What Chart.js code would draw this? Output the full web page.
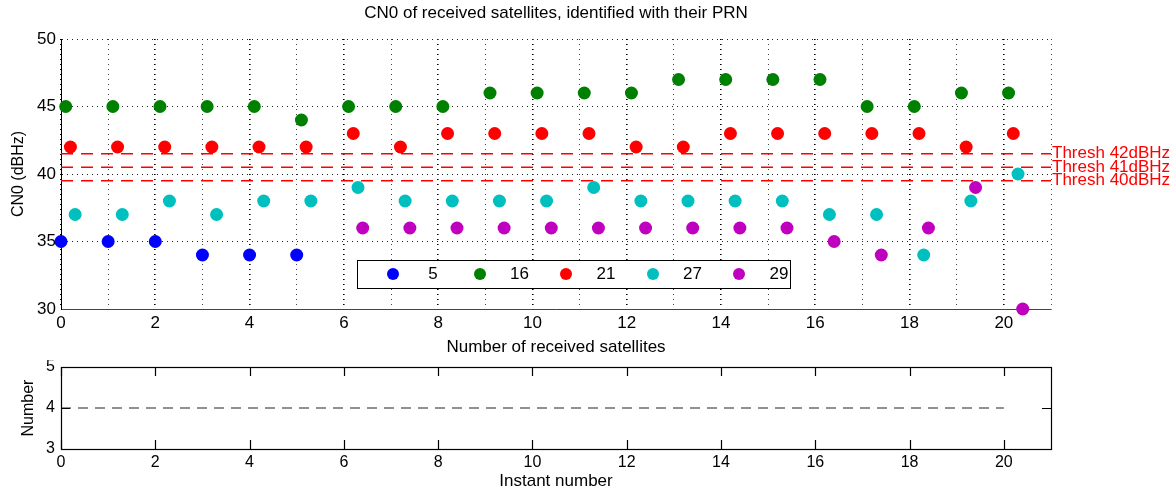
<!DOCTYPE html>
<html>
<head>
<meta charset="utf-8">
<script src="https://cdn.jsdelivr.net/npm/chart.js@4.4.1/dist/chart.umd.min.js"></script>
<style>
  body { margin: 0; background: #fff; font-family: 'Liberation Sans', Arial, sans-serif; }
  #wrap { position: relative; width: 1175px; height: 492px; }
  #topBox { position: absolute; left: 0; top: 0; width: 1175px; height: 360px; }
  #botBox { position: absolute; left: 0; top: 360px; width: 1175px; height: 132px; }
  #legend { position: absolute; left: 357px; top: 260px; width: 432px; height: 27px;
            border: 1.5px solid #000; background: #fff; }
  #legend .dot { position: absolute; top: 7px; width: 12px; height: 12px; border-radius: 50%; }
  #legend .lab { position: absolute; top: 3px; width: 40px; text-align: center; font-size: 17px; }
</style>
</head>
<body>
<div id="wrap">
  <div id="topBox"><canvas id="cn0Chart"></canvas></div>
  <div id="botBox"><canvas id="countChart"></canvas></div>
  <div id="legend"></div>
</div>
<script>
// instants and CN0 per PRN (null = satellite not received)
const instants = [0, 1, 2, 3, 4, 5, 6, 7, 8, 9, 10, 11, 12, 13, 14, 15, 16, 17, 18, 19, 20];
const prnLabels = ['5', '16', '21', '27', '29'];
const prnOffsets = [0, 0.1, 0.2, 0.3, 0.4];
const cn0Prn5  = [35, 35, 35, 34, 34, 34, null, null, null, null, null, null, null, null, null, null, null, null, null, null, null];
const cn0Prn16 = [45, 45, 45, 45, 45, 44, 45, 45, 45, 46, 46, 46, 46, 47, 47, 47, 47, 45, 45, 46, 46];
const cn0Prn21 = [42, 42, 42, 42, 42, 42, 43, 42, 43, 43, 43, 43, 42, 42, 43, 43, 43, 43, 43, 42, 43];
const cn0Prn27 = [37, 37, 38, 37, 38, 38, 39, 38, 38, 38, 38, 39, 38, 38, 38, 38, 37, 37, 34, 38, 40];
const cn0Prn29 = [null, null, null, null, null, null, 36, 36, 36, 36, 36, 36, 36, 36, 36, 36, 35, 34, 36, 39, 30];
const threshLevels = [41.5, 40.5, 39.5];
const threshLabels = ['Thresh 42dBHz', 'Thresh 41dBHz', 'Thresh 40dBHz'];
const satCount = [4, 4, 4, 4, 4, 4, 4, 4, 4, 4, 4, 4, 4, 4, 4, 4, 4, 4, 4, 4, 4];
const cn0Ticks = [30, 35, 40, 45, 50];

const cn0ByPrn = [cn0Prn5, cn0Prn16, cn0Prn21, cn0Prn27, cn0Prn29];
const prnColors = ['#0000ff', '#008000', '#ff0000', '#00bfbf', '#bf00bf'];

Chart.defaults.font.family = "'Liberation Sans', Arial, sans-serif";
Chart.defaults.color = '#000';

// legend box
const legend = document.getElementById('legend');
prnLabels.forEach(function(lab, i) {
  const x = 29 + i * 86.5;
  const dot = document.createElement('div');
  dot.className = 'dot';
  dot.style.left = x + 'px';
  dot.style.background = prnColors[i];
  legend.appendChild(dot);
  const t = document.createElement('div');
  t.className = 'lab';
  t.style.left = (x + 26) + 'px';
  t.textContent = lab;
  legend.appendChild(t);
});

const prnDatasets = cn0ByPrn.map(function(vals, k) {
  const pts = [];
  instants.forEach(function(t, i) {
    if (vals[i] !== null) pts.push({ x: t + prnOffsets[k], y: vals[i] });
  });
  return {
    label: prnLabels[k],
    data: pts,
    backgroundColor: prnColors[k],
    borderColor: prnColors[k],
    borderWidth: 0,
    pointRadius: 6.5,
    pointHoverRadius: 6.5,
    clip: false
  };
});

const threshDatasets = threshLevels.map(function(lv, k) {
  return {
    label: threshLabels[k],
    type: 'line',
    data: [{ x: 0, y: lv }, { x: 21, y: lv }],
    borderColor: '#ff0000',
    borderWidth: 1.3,
    borderDash: [12, 8],
    pointRadius: 0
  };
});

const topDecor = {
  id: 'topDecor',
  afterDraw(chart) {
    const ctx = chart.ctx, a = chart.chartArea, y = chart.scales.y;
    ctx.save();
    ctx.fillStyle = '#000';
    ctx.font = "17px 'Liberation Sans', Arial, sans-serif";
    ctx.textAlign = 'center';
    ctx.textBaseline = 'middle';
    ctx.fillText('CN0 of received satellites, identified with their PRN', (a.left + a.right) / 2, 13);
    ctx.fillStyle = '#ff0000';
    ctx.font = "17px 'Liberation Sans', Arial, sans-serif";
    ctx.textAlign = 'left';
    threshLevels.forEach(function(lv, k) {
      ctx.fillText(threshLabels[k], a.right + 1, y.getPixelForValue(lv));
    });
    ctx.restore();
  }
};

function noPadY(s) { s.width = 61; s.paddingTop = 0; s.paddingBottom = 0; }

new Chart(document.getElementById('cn0Chart'), {
  type: 'scatter',
  data: { datasets: prnDatasets.concat(threshDatasets) },
  options: {
    responsive: true,
    maintainAspectRatio: false,
    animation: false,
    layout: { padding: { top: 39, right: 124, left: 0, bottom: 0 } },
    plugins: { legend: { display: false }, tooltip: { enabled: false } },
    scales: {
      x: {
        type: 'linear', min: 0, max: 21,
        afterFit: function(s) { s.height = 51; s.paddingLeft = 0; s.paddingRight = 0; },
        ticks: {
          stepSize: 1, autoSkip: false, maxRotation: 0, padding: 4,
          font: { size: 17 }, color: '#000',
          callback: function(v) { return v % 2 === 0 && v <= 20 ? v : ''; }
        },
        grid: {
          drawTicks: false,
          color: function(c) { return c.tick && c.tick.value % 2 === 0 ? '#000' : '#444'; },
          lineWidth: function(c) { return c.tick && c.tick.value % 2 === 0 ? 1.6 : 1; }
        },
        border: { display: true, color: '#444', width: 1, dash: [1, 4] },
        title: { display: true, text: 'Number of received satellites', font: { size: 17 }, padding: { top: 0, bottom: 2 } }
      },
      y: {
        min: 30, max: 50,
        afterFit: noPadY,
        afterBuildTicks: function(s) { s.ticks = cn0Ticks.map(function(v) { return { value: v }; }); },
        ticks: { padding: 5, font: { size: 17 }, color: '#000' },
        grid: { drawTicks: false, color: '#222', lineWidth: 1 },
        border: { display: true, color: '#000', width: 1, dash: [1, 4] },
        title: { display: true, text: 'CN0 (dBHz)', font: { size: 16 }, padding: { top: 9, bottom: 0 } }
      }
    }
  },
  plugins: [topDecor]
});

const boxTicks = {
  id: 'boxTicks',
  afterDraw(chart) {
    const ctx = chart.ctx, a = chart.chartArea;
    const sx = chart.scales.x, sy = chart.scales.y;
    ctx.save();
    ctx.strokeStyle = '#000';
    ctx.lineWidth = 1.2;
    ctx.strokeRect(a.left + 0.5, a.top + 0.5, a.right - a.left, a.bottom - a.top);
    ctx.beginPath();
    sx.ticks.forEach(function(t) {
      const px = Math.round(sx.getPixelForValue(t.value)) + 0.5;
      ctx.moveTo(px, a.bottom); ctx.lineTo(px, a.bottom - 9);
      ctx.moveTo(px, a.top); ctx.lineTo(px, a.top + 9);
    });
    sy.ticks.forEach(function(t) {
      const py = Math.round(sy.getPixelForValue(t.value)) + 0.5;
      ctx.moveTo(a.left, py); ctx.lineTo(a.left + 9, py);
      ctx.moveTo(a.right, py); ctx.lineTo(a.right - 9, py);
    });
    ctx.stroke();
    ctx.restore();
  }
};

new Chart(document.getElementById('countChart'), {
  type: 'scatter',
  data: {
    datasets: [{
      label: 'Number',
      data: instants.map(function(t, i) { return { x: t, y: satCount[i] }; }),
      showLine: true,
      borderColor: '#6e6e6e',
      borderWidth: 1.5,
      borderDash: [10, 7],
      pointRadius: 0
    }]
  },
  options: {
    responsive: true,
    maintainAspectRatio: false,
    animation: false,
    layout: { padding: { top: 7, right: 124, left: 0, bottom: 0 } },
    plugins: { legend: { display: false }, tooltip: { enabled: false } },
    scales: {
      x: {
        type: 'linear', min: 0, max: 21,
        afterFit: function(s) { s.height = 43; s.paddingLeft = 0; s.paddingRight = 0; },
        ticks: { stepSize: 2, includeBounds: false, maxRotation: 0, padding: 4, font: { size: 16 }, color: '#000' },
        grid: { display: false, drawTicks: false },
        border: { display: true, color: '#000', width: 1 },
        title: { display: true, text: 'Instant number', font: { size: 17 }, padding: { top: 0, bottom: 0 } }
      },
      y: {
        min: 3, max: 5,
        afterFit: noPadY,
        ticks: { stepSize: 1, padding: 6, font: { size: 16 }, color: '#000' },
        grid: { display: false, drawTicks: false },
        border: { display: true, color: '#000', width: 1 },
        title: { display: true, text: 'Number', font: { size: 16 }, padding: { top: 19, bottom: 0 } }
      }
    }
  },
  plugins: [boxTicks]
});
</script>
</body>
</html>
